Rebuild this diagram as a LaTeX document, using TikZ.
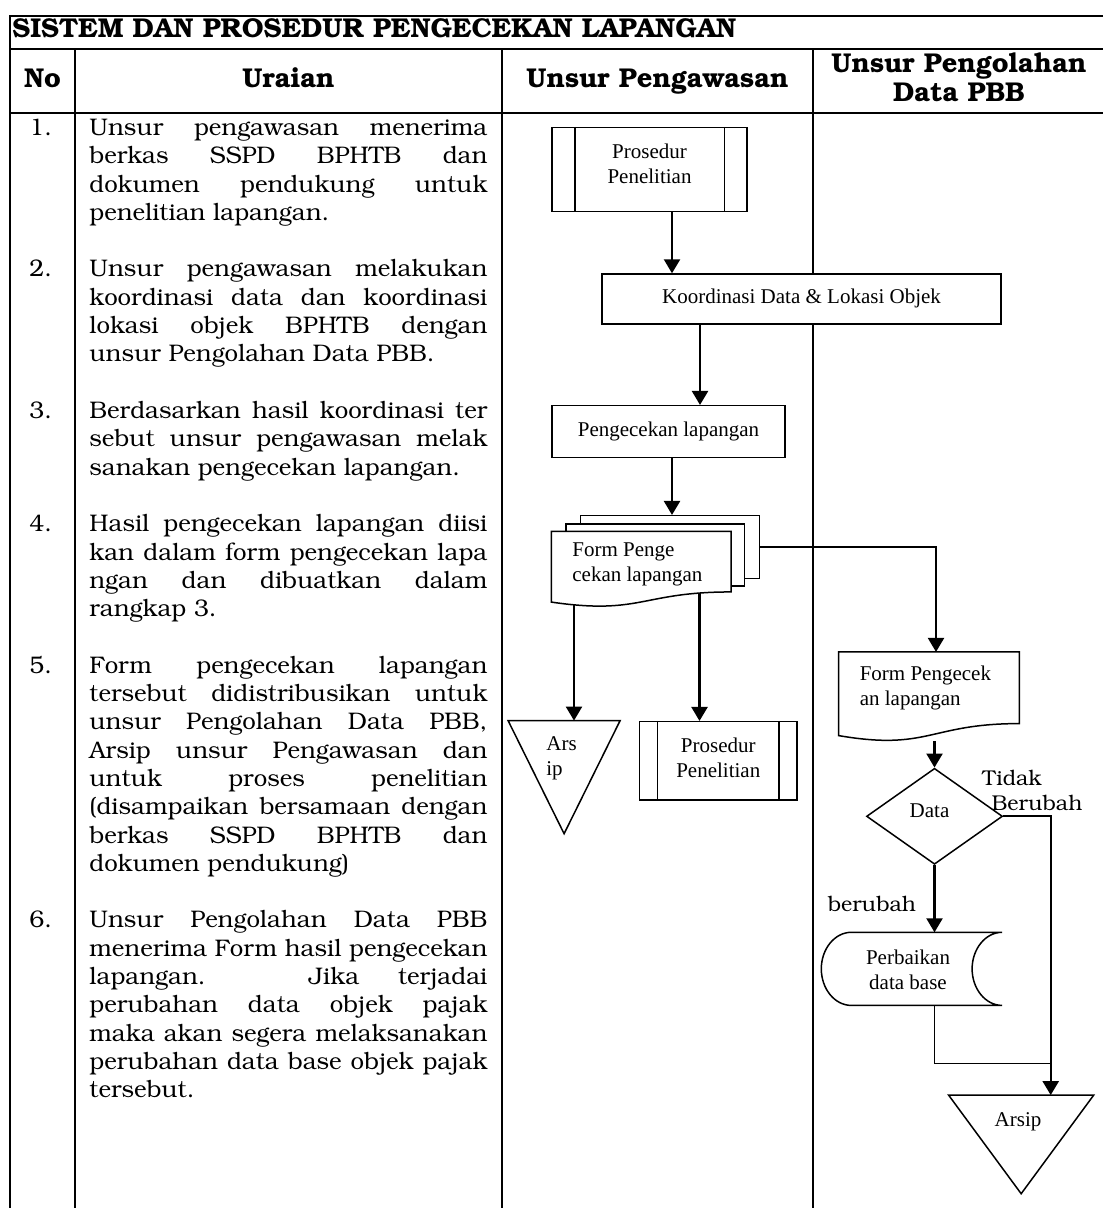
\documentclass[tikz,border=0pt]{standalone}
\usepackage[T1]{fontenc}
\usepackage{fontspec}
\newfontfamily\tnr{Liberation Serif}
\newcommand\bkfam{\fontencoding{T1}\fontfamily{pbk}\selectfont}
\usetikzlibrary{arrows.meta,shapes.geometric,calc}
% one justified line of a paragraph
\newcommand\jl[1]{\makebox[\linewidth][s]{#1}\\}
\begin{document}
\begin{tikzpicture}[x=0.5pt,y=-0.5pt,
  grid/.style={line width=1.15pt},
  bodytxt/.style={inner sep=0pt, anchor=base west, font={\bkfam\fontsize{12}{14.15}\selectfont}},
  headtxt/.style={inner sep=0pt, anchor=base, font={\bkfam\bfseries\fontsize{13.6}{15}\selectfont}},
  lbl/.style={inner sep=0pt, font={\bkfam\fontsize{10.7}{12.5}\selectfont}},
  fc/.style={inner sep=0pt, align=center, font={\tnr\fontsize{10.5}{12.5}\selectfont}},
  shapeline/.style={line width=0.75pt},
  box/.style={fc, shapeline, draw, fill=white},
  ghost/.style={inner sep=0pt, draw=none},
  arr/.style={line width=1.15pt, -{Triangle[length=7pt,width=8pt]}},
  thinline/.style={line width=0.6pt}
]
\useasboundingbox (0,0) rectangle (1103,1208);

% ---------- table frame ----------
\draw[grid] (1103,16) -- (10,16) -- (10,1208);
\draw[grid] (10,49) -- (1103,49);
\draw[grid] (10,113) -- (1103,113);
\draw[grid] (75,49) -- (75,1208);
\draw[grid] (502,49) -- (502,1208);
\draw[grid] (813,49) -- (813,1208);

% ---------- headings ----------
\node[headtxt, anchor=base west] (title) at (12,37.5) {SISTEM DAN PROSEDUR PENGECEKAN LAPANGAN};
\node[headtxt] (hno) at (42.5,88) {No};
\node[headtxt] (hur) at (288.5,88) {Uraian};
\node[headtxt] (hpw) at (657.5,88) {Unsur Pengawasan};
\node[headtxt] (hpb1) at (959,73) {Unsur Pengolahan};
\node[headtxt] (hpb2) at (959,102) {Data PBB};

% ---------- description column ----------
\node[bodytxt] (n1) at (29,135.5) {1.};
\node[bodytxt] (u1) at (89,135.5) {\parbox[t]{199pt}{%
  \jl{Unsur pengawasan menerima}\jl{berkas SSPD BPHTB dan}\jl{dokumen pendukung untuk}penelitian lapangan.}};
\node[bodytxt] (n2) at (29,277) {2.};
\node[bodytxt] (u2) at (89,277) {\parbox[t]{199pt}{%
  \jl{Unsur pengawasan melakukan}\jl{koordinasi data dan koordinasi}\jl{lokasi objek BPHTB dengan}unsur Pengolahan Data PBB.}};
\node[bodytxt] (n3) at (29,418.5) {3.};
\node[bodytxt] (u3) at (89,418.5) {\parbox[t]{199pt}{%
  \jl{Berdasarkan hasil koordinasi ter}\jl{sebut unsur pengawasan melak}sanakan pengecekan lapangan.}};
\node[bodytxt] (n4) at (29,531.7) {4.};
\node[bodytxt] (u4) at (89,531.7) {\parbox[t]{199pt}{%
  \jl{Hasil pengecekan lapangan diisi}\jl{kan dalam form pengecekan lapa}\jl{ngan dan dibuatkan dalam}rangkap 3.}};
\node[bodytxt] (n5) at (29,673.2) {5.};
\node[bodytxt] (u5) at (89,673.2) {\parbox[t]{199pt}{%
  \jl{Form pengecekan lapangan}\jl{tersebut didistribusikan untuk}\jl{unsur Pengolahan Data PBB,}\jl{Arsip unsur Pengawasan dan}%
  \jl{untuk proses penelitian}\jl{(disampaikan bersamaan dengan}\jl{berkas SSPD BPHTB dan}dokumen pendukung)}};
\node[bodytxt] (n6) at (29,927.9) {6.};
\node[bodytxt] (u6) at (89,927.9) {\parbox[t]{199pt}{%
  \jl{Unsur Pengolahan Data PBB}\jl{menerima Form hasil pengecekan}\jl{lapangan. Jika terjadai}\jl{perubahan data objek pajak}%
  \jl{maka akan segera melaksanakan}\jl{perubahan data base objek pajak}tersebut.}};

% ---------- flowchart: Unsur Pengawasan ----------
\node[box, minimum width=97.5pt, minimum height=42pt] (proc1) at (649.5,169.7) {Prosedur\\Penelitian\\[-7pt]\mbox{}};
\draw[shapeline] ([xshift=11.75pt]proc1.north west) -- ([xshift=11.75pt]proc1.south west);
\draw[shapeline] ([xshift=-11.75pt]proc1.north east) -- ([xshift=-11.75pt]proc1.south east);

\node[box, minimum width=199.5pt, minimum height=24.85pt] (koor) at (801.5,298.9) {Koordinasi Data \& Lokasi Objek};
\node[box, minimum width=116.5pt, minimum height=26pt] (cek) at (668.5,431.7) {Pengecekan lapangan};

% stacked documents
\node[box, minimum width=89.4pt, minimum height=31.3pt] (mdb) at (670,547) {};
\node[box, minimum width=89.4pt, minimum height=31pt] (mdm) at (655.2,555) {};
\node[ghost, minimum width=89.4pt, minimum height=37.5pt] (md) at (641.2,569.2) {};
\draw[shapeline, fill=white] (md.north west) -- (md.north east) -- ($(md.north east)!0.8!(md.south east)$)
  .. controls ($(md.north)!0.8!(md.south)$) and ($(md.north)!1.107!(md.south)$) .. ($(md.north west)!0.934!(md.south west)$) -- cycle;
\node[fc, anchor=west, align=left] (mdt) at (572,564.2) {Form Penge\\cekan lapangan};

% archive and research procedure
\node[ghost, minimum width=55.6pt, minimum height=56.15pt] (ars1) at (564.1,777.15) {};
\draw[shapeline] (ars1.north west) -- (ars1.north east) -- (ars1.south) -- cycle;
\node[fc, anchor=west, align=left] (ars1t) at (546,758) {Ars\\ip};

\node[box, minimum width=78.95pt, minimum height=39.15pt] (proc2) at (718.25,760.85) {Prosedur\\Penelitian\\[-9pt]\mbox{}};
\draw[shapeline] ([xshift=9.5pt]proc2.north west) -- ([xshift=9.5pt]proc2.south west);
\draw[shapeline] ([xshift=-9.5pt]proc2.north east) -- ([xshift=-9.5pt]proc2.south east);

% ---------- flowchart: Unsur Pengolahan Data PBB ----------
\node[ghost, minimum width=90pt, minimum height=44.4pt] (f2) at (929,696.7) {};
\draw[shapeline, fill=white] (f2.north west) -- (f2.north east) -- ($(f2.north east)!0.8!(f2.south east)$)
  .. controls ($(f2.north)!0.8!(f2.south)$) and ($(f2.north)!1.107!(f2.south)$) .. ($(f2.north west)!0.934!(f2.south west)$) -- cycle;
\node[fc, anchor=west, align=left] (f2t) at (859.4,687.5) {Form Pengecek\\an lapangan};

\node[shape=diamond, draw, shapeline, inner sep=0pt, minimum width=68pt, minimum height=48pt] (dia) at (934.5,816.3) {};
\node[fc] (diat) at (929.5,811) {Data};
\node[lbl] (lblT) at (1012,778.3) {Tidak};
\node[lbl] (lblB) at (1037,803.3) {Berubah};
\node[lbl] (lblR) at (872,904) {berubah};

\node[ghost, minimum width=90pt, minimum height=36.15pt] (perb) at (911.7,968.85) {};
\draw[shapeline, fill=white]
  ($(perb.north west)+(30,0)$) -- (perb.north east)
  .. controls ($(perb.north east)+(-16.6,0)$) and ($(perb.east)+(-30,-20)$) .. ($(perb.east)+(-30,0)$)
  .. controls ($(perb.east)+(-30,20)$) and ($(perb.south east)+(-16.6,0)$) .. (perb.south east)
  -- ($(perb.south west)+(30,0)$)
  .. controls ($(perb.south west)+(13.4,0)$) and ($(perb.west)+(0,20)$) .. (perb.west)
  .. controls ($(perb.west)+(0,-20)$) and ($(perb.north west)+(13.4,0)$) .. ($(perb.north west)+(30,0)$) -- cycle;
\node[fc] (perbt) at (908,969.7) {Perbaikan\\data base};

\node[ghost, minimum width=72.15pt, minimum height=48.9pt] (ars2) at (1021.15,1144.4) {};
\draw[shapeline] (ars2.north west) -- (ars2.north east) -- (ars2.south) -- cycle;
\node[fc] (ars2t) at (1018,1121.7) {Arsip};

% ---------- connectors ----------
\coordinate (a1) at ($(proc1.south)+(22.5,0)$);
\coordinate (a2) at ($(koor.south)+(-101.5,0)$);
\coordinate (a3) at ($(cek.south)+(3.5,0)$);
\coordinate (a4) at ($(f2.north)+(7,0)$);
\coordinate (mdL) at (574,604.4);
\coordinate (mdR) at (699.5,592.7);
\coordinate (f2b) at (934.5,741);
\coordinate (jn) at (1050.7,1063.3);

\draw[arr] (a1) -- (a1 |- koor.north);
\draw[arr] (a2) -- (a2 |- cek.north);
\draw[arr] (a3) -- (a3 |- mdb.north);
\draw[arr] (mdb.east) -| (a4);
\draw[arr] (mdL) -- (mdL |- ars1.north);
\draw[arr] (mdR) -- (mdR |- proc2.north);
\draw[arr] (f2b) -- (f2b |- dia.north);
\draw[arr] (dia.south) -- (dia.south |- perb.north);
\draw[arr] (dia.east) -| (jn |- ars2.north);
\draw[thinline] (dia.south |- perb.south) |- (jn);
\end{tikzpicture}
\end{document}
